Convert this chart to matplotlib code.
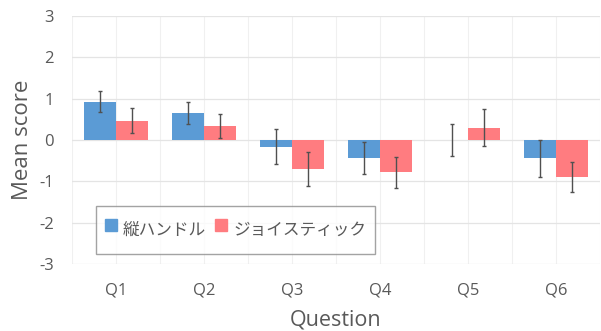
import matplotlib
matplotlib.use("Agg")
import matplotlib.pyplot as plt
from matplotlib.lines import Line2D
import numpy as np

questions = ["Q1", "Q2", "Q3", "Q4", "Q5", "Q6"]
series_names = ["縦ハンドル", "ジョイスティック"]
handle_mean = [0.93, 0.65, -0.16, -0.44, 0.00, -0.44]
handle_err = [0.26, 0.26, 0.43, 0.38, 0.38, 0.45]
joystick_mean = [0.47, 0.35, -0.70, -0.78, 0.30, -0.89]
joystick_err = [0.30, 0.29, 0.42, 0.37, 0.45, 0.36]
y_ticks = [-3, -2, -1, 0, 1, 2, 3]

blue = "#5B9BD5"
red = "#FF7C80"
text_grey = "#595959"

plt.rcParams["font.family"] = ["Open Sans", "Noto Sans CJK JP", "DejaVu Sans"]

fig = plt.figure(figsize=(6.01, 3.31), dpi=100)
ax = fig.add_axes([72 / 601, 67 / 331, 528 / 601, 248 / 331])

x = np.arange(len(questions))
w = 0.36
err_kw = dict(ecolor="#505050", elinewidth=1.0, capsize=1.5, capthick=1.0)
ax.bar(x - w / 2, handle_mean, w, yerr=handle_err, color=blue,
       label=series_names[0], error_kw=err_kw, zorder=3)
ax.bar(x + w / 2, joystick_mean, w, yerr=joystick_err, color=red,
       label=series_names[1], error_kw=err_kw, zorder=3)

ax.set_xlim(-0.5, len(questions) - 0.5)
ax.set_ylim(-3, 3)
ax.set_yticks(y_ticks)
ax.set_yticklabels([str(t) for t in y_ticks])
ax.set_xticks(x)
ax.set_xticklabels(questions)

# light grid: horizontal at integers, vertical at category centres and edges
for t in y_ticks:
    ax.axhline(t, color="#e4e4e4", lw=0.9, zorder=1)
for b in np.arange(-0.5, len(questions), 0.5):
    ax.axvline(b, color="#f0f0f0", lw=0.8, zorder=0)

for s in ax.spines.values():
    s.set_visible(False)
ax.tick_params(length=0, labelsize=12, colors=text_grey)
ax.tick_params(axis="x", pad=13)
ax.tick_params(axis="y", pad=13)

ax.set_xlabel("Question", fontsize=15.5, color=text_grey, labelpad=8)
ax.set_ylabel("Mean score", fontsize=16, color=text_grey)
ax.yaxis.set_label_coords(-0.074, 0.5)

# legend with small square keys inside a tall, narrow-padded frame
proxies = [Line2D([], [], ls="none", marker="s", markersize=8.5,
                  markerfacecolor=c, markeredgecolor=c) for c in (blue, red)]
leg = ax.legend(proxies, series_names, loc="center",
                bbox_to_anchor=(((96 + 375) / 2 - 72) / 528, (264 - 230) / 248),
                ncol=2, frameon=True, fancybox=False,
                handlelength=0.75, handleheight=2.5, handletextpad=0.35,
                columnspacing=0.55, borderpad=0.5, borderaxespad=0,
                prop={"family": ["Noto Sans CJK JP", "DejaVu Sans"], "size": 12})
leg.get_frame().set_edgecolor("#8c8c8c")
leg.get_frame().set_linewidth(1.0)
for t in leg.get_texts():
    t.set_color(text_grey)

fig.savefig("out.png", dpi=100)
